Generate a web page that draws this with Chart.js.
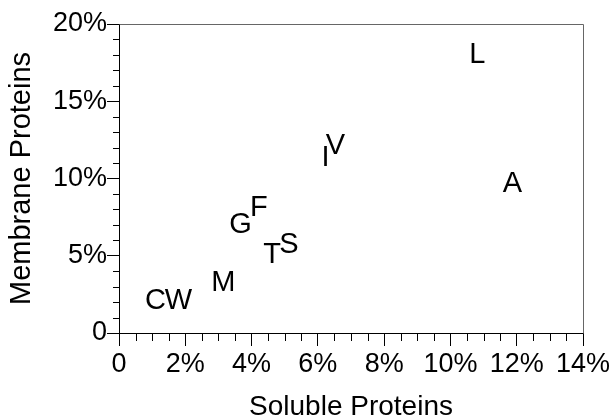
<!DOCTYPE html>
<html>
<head>
<meta charset="utf-8">
<script src="https://cdn.jsdelivr.net/npm/chart.js@4/dist/chart.umd.min.js"></script>
<style>
  html, body { margin: 0; padding: 0; background: #fff; }
  #wrap { width: 614px; height: 420px; }
</style>
</head>
<body>
<div id="wrap"><canvas id="myChart" width="614" height="420"></canvas></div>
<script>
// amino acid letters and their shares (%)
var letters = ['C', 'W', 'M', 'G', 'F', 'T', 'S', 'I', 'V', 'L', 'A'];
var soluble = [1.10, 1.79, 3.15, 3.67, 4.22, 4.62, 5.13, 6.23, 6.53, 10.81, 11.87];
var membrane = [2.22, 2.22, 3.39, 7.12, 8.24, 5.18, 5.83, 11.46, 12.23, 18.12, 9.77];

var xTicks = [0, 2, 4, 6, 8, 10, 12, 14];
var yTicks = [0, 5, 10, 15, 20];

var FONT = "'Liberation Sans', Helvetica, Arial, sans-serif";

var points = [];
for (var i = 0; i < letters.length; i++) {
    points.push({ x: soluble[i], y: membrane[i] });
}

function pctLabel(v) {
    return v === 0 ? '0' : v + '%';
}

// draws each letter at its point
var letterPlugin = {
    id: 'letterPlugin',
    afterDatasetsDraw: function(chart) {
        var ctx = chart.ctx;
        var meta = chart.getDatasetMeta(0);
        ctx.save();
        ctx.font = '29px ' + FONT;
        ctx.fillStyle = '#000';
        ctx.textAlign = 'center';
        ctx.textBaseline = 'alphabetic';
        var capH = ctx.measureText('H').actualBoundingBoxAscent;
        meta.data.forEach(function(pt, i) {
            ctx.fillText(letters[i], pt.x, pt.y + capH / 2);
        });
        ctx.restore();
    }
};

// minor ticks and the grey frame on top/right
var framePlugin = {
    id: 'framePlugin',
    afterDraw: function(chart) {
        var ctx = chart.ctx;
        var area = chart.chartArea;
        var xs = chart.scales.x;
        var ys = chart.scales.y;
        ctx.save();
        ctx.strokeStyle = '#000';
        ctx.lineWidth = 1;
        ctx.beginPath();
        for (var v = 1; v < 20; v++) {
            if (v % 5 === 0) continue;
            var py = Math.round(ys.getPixelForValue(v)) + 0.5;
            ctx.moveTo(area.left - 6, py);
            ctx.lineTo(area.left, py);
        }
        for (var h = 0.5; h < 14; h += 0.5) {
            if (h % 2 === 0) continue;
            var px = Math.round(xs.getPixelForValue(h)) + 0.5;
            ctx.moveTo(px, area.bottom);
            ctx.lineTo(px, area.bottom + 8);
        }
        ctx.stroke();

        ctx.strokeStyle = '#666';
        ctx.beginPath();
        ctx.moveTo(Math.round(area.left) + 0.5, Math.round(area.top) + 0.5);
        ctx.lineTo(Math.round(area.right) + 0.5, Math.round(area.top) + 0.5);
        ctx.lineTo(Math.round(area.right) + 0.5, Math.round(area.bottom) + 0.5);
        ctx.stroke();
        ctx.restore();
    }
};

var ctx = document.getElementById('myChart').getContext('2d');
var chart = new Chart(ctx, {
    type: 'scatter',
    data: {
        datasets: [{
            label: 'Amino acids',
            data: points,
            pointRadius: 0,
            pointHoverRadius: 0
        }]
    },
    options: {
        responsive: false,
        animation: false,
        events: [],
        layout: {
            padding: { top: 24, right: 31, left: 0, bottom: 0 }
        },
        plugins: {
            legend: { display: false },
            tooltip: { enabled: false }
        },
        scales: {
            x: {
                type: 'linear',
                min: 0,
                max: 14,
                afterBuildTicks: function(scale) {
                    scale.ticks = xTicks.map(function(v) { return { value: v }; });
                },
                afterFit: function(scale) {
                    scale.height = 87;
                    scale.paddingLeft = 0;
                    scale.paddingRight = 0;
                },
                grid: { drawOnChartArea: false, tickLength: 13, color: '#000' },
                border: { color: '#000', width: 1 },
                ticks: {
                    padding: 2,
                    color: '#000',
                    maxRotation: 0,
                    autoSkip: false,
                    font: { family: FONT, size: 27 },
                    callback: function(v) { return pctLabel(v); }
                },
                title: {
                    display: true,
                    text: 'Soluble Proteins',
                    color: '#000',
                    padding: { top: 0, bottom: 0 },
                    font: { family: FONT, size: 28, lineHeight: 0.9 }
                }
            },
            y: {
                type: 'linear',
                min: 0,
                max: 20,
                afterBuildTicks: function(scale) {
                    scale.ticks = yTicks.map(function(v) { return { value: v }; });
                },
                afterFit: function(scale) {
                    scale.width = 119;
                    scale.paddingTop = 0;
                    scale.paddingBottom = 0;
                },
                grid: { drawOnChartArea: false, tickLength: 12, color: '#000' },
                border: { color: '#000', width: 1 },
                ticks: {
                    padding: 0,
                    color: '#000',
                    autoSkip: false,
                    font: { family: FONT, size: 27 },
                    callback: function(v) { return pctLabel(v); }
                },
                title: {
                    display: true,
                    text: 'Membrane Proteins',
                    color: '#000',
                    padding: { top: 5, bottom: 0 },
                    font: { family: FONT, size: 29, lineHeight: 1.2 }
                }
            }
        }
    },
    plugins: [letterPlugin, framePlugin]
});
</script>
</body>
</html>
